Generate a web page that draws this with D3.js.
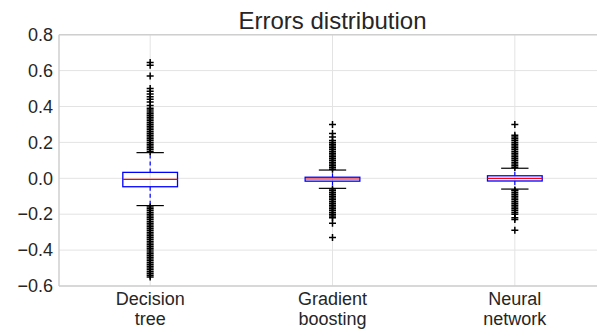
<!DOCTYPE html>
<html>
<head>
<meta charset="utf-8">
<script src="https://cdn.jsdelivr.net/npm/d3@7"></script>
<style>
  body { margin: 0; background: #fff; }
  svg { display: block; font-family: "Liberation Sans", Arial, sans-serif; }
</style>
</head>
<body>
<svg id="chart" width="597" height="330"></svg>
<script>
// categories and box statistics
const categories = [['Decision', 'tree'], ['Gradient', 'boosting'], ['Neural', 'network']];
const q1 = [-0.047, -0.016, -0.015];
const medians = [-0.006, -0.004, 0.0];
const q3 = [0.033, 0.006, 0.014];
const whiskerLow = [-0.152, -0.056, -0.060];
const whiskerHigh = [0.143, 0.046, 0.056];

// flier values (outliers beyond the whiskers)
const fliersDT = [
  0.15, 0.16, 0.17, 0.18, 0.19, 0.20, 0.21, 0.22, 0.23, 0.24, 0.25, 0.26, 0.27, 0.28,
  0.29, 0.30, 0.31, 0.32, 0.33, 0.34, 0.35, 0.36, 0.37, 0.38, 0.39, 0.405, 0.425,
  0.44, 0.455, 0.47, 0.485, 0.50, 0.57, 0.63, 0.645,
  -0.16, -0.17, -0.18, -0.19, -0.20, -0.21, -0.22, -0.23, -0.24, -0.25, -0.26, -0.27,
  -0.28, -0.29, -0.30, -0.31, -0.32, -0.33, -0.34, -0.35, -0.36, -0.37, -0.38, -0.39,
  -0.40, -0.41, -0.42, -0.43, -0.44, -0.45, -0.46, -0.47, -0.48, -0.49, -0.50, -0.51,
  -0.52, -0.53, -0.54, -0.55
];
const fliersGB = [
  0.05, 0.06, 0.07, 0.08, 0.09, 0.10, 0.11, 0.12, 0.13, 0.14, 0.15, 0.16, 0.17, 0.18,
  0.19, 0.20, 0.21, 0.23, 0.25, 0.30,
  -0.06, -0.07, -0.08, -0.09, -0.10, -0.11, -0.12, -0.13, -0.14, -0.15, -0.16, -0.17,
  -0.18, -0.19, -0.20, -0.21, -0.22, -0.25, -0.33
];
const fliersNN = [
  0.06, 0.07, 0.08, 0.09, 0.10, 0.11, 0.12, 0.13, 0.14, 0.15, 0.16, 0.17, 0.18, 0.19,
  0.20, 0.21, 0.22, 0.23, 0.24, 0.30,
  -0.065, -0.07, -0.08, -0.09, -0.10, -0.11, -0.12, -0.13, -0.14, -0.15, -0.16, -0.17,
  -0.18, -0.19, -0.20, -0.22, -0.23, -0.29
];
const fliers = [fliersDT, fliersGB, fliersNN];
const yTicks = [-0.6, -0.4, -0.2, 0.0, 0.2, 0.4, 0.6, 0.8];
const title = 'Errors distribution';

const width = 597, height = 330;
const margin = { top: 34.7, left: 59, bottom: 286 };

const svg = d3.select('#chart');

// positions 1..3, xlim 0.5..3.5 (right side is cropped by the image)
const x = d3.scaleLinear().domain([0.5, 3.5]).range([margin.left, 606]);
const y = d3.scaleLinear().domain([-0.6, 0.8]).range([margin.bottom, margin.top]);
const boxW = x(1.15) - x(0.85);

// grid
svg.append('g')
  .selectAll('line')
  .data(yTicks)
  .join('line')
  .attr('x1', margin.left).attr('x2', width)
  .attr('y1', d => y(d)).attr('y2', d => y(d))
  .attr('stroke', '#e3e3e3').attr('stroke-width', 1);

svg.append('g')
  .selectAll('line')
  .data(categories)
  .join('line')
  .attr('x1', (d, i) => x(i + 1)).attr('x2', (d, i) => x(i + 1))
  .attr('y1', margin.top).attr('y2', margin.bottom)
  .attr('stroke', '#e3e3e3').attr('stroke-width', 1);

// y axis labels
const yAxis = d3.axisLeft(y).tickValues(yTicks).tickSize(0).tickPadding(6)
  .tickFormat(d => d3.format('.1f')(d).replace('-', '\u2212'));
const yAxisG = svg.append('g')
  .attr('transform', `translate(${margin.left},0)`)
  .call(yAxis);
yAxisG.select('.domain').remove();
yAxisG.selectAll('text')
  .attr('font-size', 18)
  .attr('font-family', '"Liberation Sans", Arial, sans-serif')
  .attr('fill', '#262626');

// spines
svg.append('line')
  .attr('x1', margin.left).attr('x2', margin.left)
  .attr('y1', margin.top).attr('y2', margin.bottom)
  .attr('stroke', '#cfcfcf').attr('stroke-width', 1.5);
svg.append('line')
  .attr('x1', margin.left).attr('x2', width)
  .attr('y1', margin.top).attr('y2', margin.top)
  .attr('stroke', '#cfcfcf').attr('stroke-width', 1.5);
svg.append('line')
  .attr('x1', margin.left).attr('x2', width)
  .attr('y1', margin.bottom).attr('y2', margin.bottom)
  .attr('stroke', '#cfcfcf').attr('stroke-width', 1.5);

// category labels
const catG = svg.append('g');
categories.forEach((lines, i) => {
  catG.append('text')
    .attr('x', x(i + 1))
    .attr('y', 305)
    .attr('text-anchor', 'middle')
    .attr('font-size', 18)
    .attr('fill', '#262626')
    .selectAll('tspan')
    .data(lines)
    .join('tspan')
    .attr('x', x(i + 1))
    .attr('dy', (d, j) => j === 0 ? 0 : 20)
    .text(d => d);
});

// boxes
const boxes = svg.append('g');
categories.forEach((c, i) => {
  const cx = x(i + 1);
  const g = boxes.append('g');

  // whiskers
  g.append('line')
    .attr('x1', cx).attr('x2', cx)
    .attr('y1', y(q3[i])).attr('y2', y(whiskerHigh[i]))
    .attr('stroke', '#0000ff').attr('stroke-width', 1.2)
    .attr('stroke-dasharray', '4,3');
  g.append('line')
    .attr('x1', cx).attr('x2', cx)
    .attr('y1', y(q1[i])).attr('y2', y(whiskerLow[i]))
    .attr('stroke', '#0000ff').attr('stroke-width', 1.2)
    .attr('stroke-dasharray', '4,3');

  // fliers
  g.append('g')
    .selectAll('path')
    .data(fliers[i])
    .join('path')
    .attr('transform', d => `translate(${cx},${y(d)})`)
    .attr('d', 'M-3.5,0H3.5M0,-3.5V3.5')
    .attr('stroke', '#000').attr('stroke-width', 1.5)
    .attr('fill', 'none');

  // caps
  [whiskerLow[i], whiskerHigh[i]].forEach(v => {
    g.append('line')
      .attr('x1', cx - boxW / 4).attr('x2', cx + boxW / 4)
      .attr('y1', y(v)).attr('y2', y(v))
      .attr('stroke', '#000').attr('stroke-width', 1.2);
  });

  // box
  g.append('rect')
    .attr('x', cx - boxW / 2)
    .attr('y', y(q3[i]))
    .attr('width', boxW)
    .attr('height', y(q1[i]) - y(q3[i]))
    .attr('fill', 'none')
    .attr('stroke', '#0000ff').attr('stroke-width', 1.3);

  // median
  g.append('line')
    .attr('x1', cx - boxW / 2).attr('x2', cx + boxW / 2)
    .attr('y1', y(medians[i])).attr('y2', y(medians[i]))
    .attr('stroke', '#ff0000').attr('stroke-width', 1.2);
});

// title
svg.append('text')
  .attr('x', (x(0.5) + x(3.5)) / 2)
  .attr('y', 29)
  .attr('text-anchor', 'middle')
  .attr('font-size', 24)
  .attr('fill', '#262626')
  .text(title);
</script>
</body>
</html>
